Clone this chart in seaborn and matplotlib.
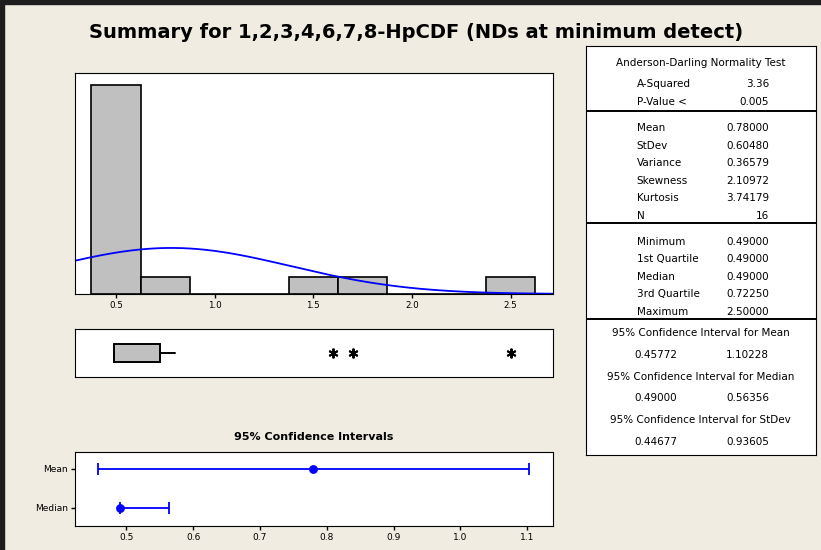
import numpy as np
import pandas as pd
import matplotlib
matplotlib.use("Agg")
import matplotlib.pyplot as plt
import seaborn as sns
from matplotlib.patches import Rectangle

# 16 observations (NDs set at minimum detect)
values = [0.49, 0.49, 0.49, 0.49, 0.49, 0.49, 0.49, 0.49,
          0.49, 0.49, 0.49, 0.49, 0.80, 1.60, 1.70, 2.50]
bin_edges = [0.375, 0.625, 0.875, 1.125, 1.375, 1.625, 1.875, 2.125, 2.375, 2.625]
hist_ticks = [0.5, 1.0, 1.5, 2.0, 2.5]

# 95% confidence intervals
ci_labels = ["Mean", "Median"]
ci_centers = [0.78, 0.49]
ci_lower = [0.45772, 0.49000]
ci_upper = [1.10228, 0.56356]
ci_ticks = [0.5, 0.6, 0.7, 0.8, 0.9, 1.0, 1.1]

# summary table
ad_labels = ["A-Squared", "P-Value <"]
ad_values = ["3.36", "0.005"]
moment_labels = ["Mean", "StDev", "Variance", "Skewness", "Kurtosis", "N"]
moment_values = ["0.78000", "0.60480", "0.36579", "2.10972", "3.74179", "16"]
quant_labels = ["Minimum", "1st Quartile", "Median", "3rd Quartile", "Maximum"]
quant_values = ["0.49000", "0.49000", "0.49000", "0.72250", "2.50000"]
ci_titles = ["95% Confidence Interval for Mean",
             "95% Confidence Interval for Median",
             "95% Confidence Interval for StDev"]
ci_table_lo = ["0.45772", "0.49000", "0.44677"]
ci_table_hi = ["1.10228", "0.56356", "0.93605"]

title = "Summary for 1,2,3,4,6,7,8-HpCDF (NDs at minimum detect)"

bg = "#F0ECE2"
bar_grey = "#C0C0C0"
W, H = 821, 550

sns.set_style("ticks", {"axes.edgecolor": "black", "axes.linewidth": 1.4,
                        "xtick.color": "black", "ytick.color": "black",
                        "text.color": "black", "axes.labelcolor": "black"})
plt.rcParams["font.family"] = ["DejaVu Sans"]


def box(left, top, right, bottom):
    # pixel box -> figure fraction
    return [left / W, 1 - bottom / H, (right - left) / W, (bottom - top) / H]


fig = plt.figure(figsize=(W / 100, H / 100), dpi=100, facecolor=bg)
df = pd.DataFrame({"conc": values})
xlim = (0.29, 2.715)

# histogram with fitted normal curve
ax_h = fig.add_axes(box(74.5, 72.5, 553, 294))
sns.histplot(data=df, x="conc", bins=bin_edges, color=bar_grey, edgecolor="black",
             linewidth=1.2, alpha=1, ax=ax_h)
mu, sd = np.mean(values), np.std(values, ddof=1)
xs = np.linspace(xlim[0], xlim[1], 300)
ys = len(values) * 0.25 * np.exp(-0.5 * ((xs - mu) / sd) ** 2) / (sd * np.sqrt(2 * np.pi))
sns.lineplot(x=xs, y=ys, color="blue", lw=1.3, ax=ax_h)
ax_h.set_xlim(*xlim)
ax_h.set_ylim(0, 12.69)
ax_h.set_yticks([])
ax_h.set_xticks(hist_ticks)
ax_h.set_xticklabels([f"{t:.1f}" for t in hist_ticks])
ax_h.tick_params(axis="x", labelsize=6.3, length=3, width=1, pad=2, labelcolor="black")
ax_h.set_xlabel("")
ax_h.set_ylabel("")

# boxplot (Minitab style quartiles)
ax_b = fig.add_axes(box(74.5, 329, 553, 377))
arr = np.array(values)
q1, med, q3 = np.percentile(arr, [25, 50, 75], method="weibull")
iqr = q3 - q1
inside = arr[(arr >= q1 - 1.5 * iqr) & (arr <= q3 + 1.5 * iqr)]
fliers = arr[(arr < q1 - 1.5 * iqr) | (arr > q3 + 1.5 * iqr)]
stats = [dict(med=med, q1=q1, q3=q3, whislo=inside.min(), whishi=inside.max(), fliers=fliers)]
ax_b.bxp(stats, positions=[0], widths=0.375, orientation="horizontal", patch_artist=True,
         showcaps=False,
         boxprops=dict(facecolor=bar_grey, edgecolor="black", linewidth=1.4),
         medianprops=dict(color="black", linewidth=1.4),
         whiskerprops=dict(color="black", linewidth=1.4),
         flierprops=dict(marker=(6, 2, 0), markersize=7, markeredgecolor="black",
                         markeredgewidth=1.4, linestyle="none"))
ax_b.set_xlim(*xlim)
ax_b.set_ylim(0.5, -0.5)
ax_b.set_xticks([])
ax_b.set_yticks([])

# confidence intervals
ax_c = fig.add_axes(box(74.6, 451.8, 553, 525.7))
ci_df = pd.DataFrame({"stat": ci_labels, "center": ci_centers, "lo": ci_lower, "hi": ci_upper})
ypos = np.arange(len(ci_df))
ax_c.errorbar(ci_df["center"], ypos,
              xerr=[ci_df["center"] - ci_df["lo"], ci_df["hi"] - ci_df["center"]],
              fmt="none", ecolor="blue", elinewidth=1.3, capsize=4.5, capthick=1.3)
sns.scatterplot(x=ci_df["center"], y=ypos, color="blue", edgecolor="blue", s=34,
                zorder=3, ax=ax_c, legend=False)
ax_c.set_xlim(0.4224, 1.1386)
ax_c.set_ylim(1.47, -0.443)
ax_c.set_yticks(ypos)
ax_c.set_yticklabels(ci_labels)
ax_c.set_xticks(ci_ticks)
ax_c.set_xticklabels([f"{t:.1f}" for t in ci_ticks])
ax_c.tick_params(labelsize=6.5, length=3, width=1, pad=2, labelcolor="black")
ax_c.set_xlabel("")
ax_c.set_ylabel("")
fig.text(313.5 / W, 1 - 437.5 / H, "95% Confidence Intervals", ha="center", va="center",
         fontsize=8, fontweight="bold", color="black")

# title
fig.text(416 / W, 1 - 32 / H, title, ha="center", va="center", fontsize=14,
         fontweight="bold", color="black")

# summary table
ax_t = fig.add_axes(box(586, 46, 816, 455))
ax_t.set_facecolor("white")
ax_t.set_xlim(0, 230)
ax_t.set_ylim(409, 0)
ax_t.set_xticks([])
ax_t.set_yticks([])
fs = 7.5
xl, xr, xc = 50.7, 183.3, 114.7
ax_t.text(xc, 17.3, "Anderson-Darling Normality Test", ha="center", va="center", fontsize=fs)
for i, (lab, val) in enumerate(zip(ad_labels, ad_values)):
    ax_t.text(xl, 38.3 + i * 17.4, lab, va="center", fontsize=fs)
    ax_t.text(xr, 38.3 + i * 17.4, val, va="center", ha="right", fontsize=fs)
for i, (lab, val) in enumerate(zip(moment_labels, moment_values)):
    ax_t.text(xl, 82.3 + i * 17.5, lab, va="center", fontsize=fs)
    ax_t.text(xr, 82.3 + i * 17.5, val, va="center", ha="right", fontsize=fs)
for i, (lab, val) in enumerate(zip(quant_labels, quant_values)):
    ax_t.text(xl, 195.7 + i * 17.5, lab, va="center", fontsize=fs)
    ax_t.text(xr, 195.7 + i * 17.5, val, va="center", ha="right", fontsize=fs)
for i, (t, lo, hi) in enumerate(zip(ci_titles, ci_table_lo, ci_table_hi)):
    y0 = 287.3 + i * 43.3
    ax_t.text(xc, y0, t, ha="center", va="center", fontsize=fs)
    ax_t.text(xl - 2, y0 + 21.7, lo, va="center", fontsize=fs)
    ax_t.text(xr, y0 + 21.7, hi, va="center", ha="right", fontsize=fs)
for yd in [65, 176.7, 273.3]:
    ax_t.axhline(yd, color="black", lw=1.4)

# dark window border on top and left
fig.add_artist(Rectangle((0, 1 - 4 / H), 1, 4 / H, transform=fig.transFigure,
                         color="#1e1e1e", zorder=10))
fig.add_artist(Rectangle((0, 0), 4 / W, 1, transform=fig.transFigure,
                         color="#1e1e1e", zorder=10))

fig.savefig("out.png", dpi=100, facecolor=bg)
